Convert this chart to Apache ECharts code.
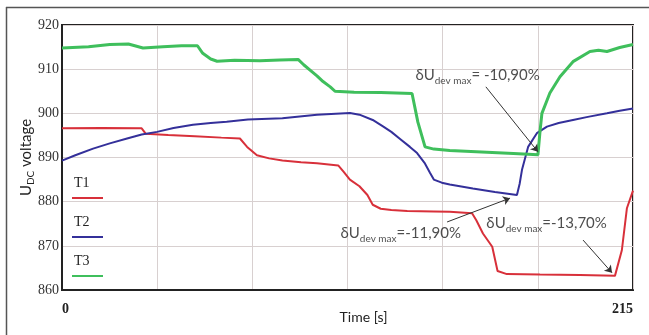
<!DOCTYPE html>
<html>
<head>
<meta charset="utf-8">
<script src="https://cdn.jsdelivr.net/npm/echarts@6/dist/echarts.min.js"></script>
<style>
  html, body { margin: 0; padding: 0; background: #fff; }
  #main { width: 649px; height: 335px; }
</style>
</head>
<body>
<div id="main"></div>
<script>
// measured traces, [time s, voltage V]
var dataT1 = [
    [0,896.6],[15,896.7],[30,896.6],[31.5,895.4],[40,895.1],[50,894.8],[60,894.5],[67,894.3],
    [69.7,892.4],[73.4,890.5],[78,889.8],[83,889.3],[90,888.9],[96,888.7],[104,888.2],[106,886.8],
    [108.4,885],[112,883.5],[115,881.5],[117,879.3],[120,878.4],[124,878.1],[130,877.9],[140,877.8],
    [146,877.7],[154.4,877.4],[156,875.8],[158.5,872.8],[162,869.8],[164,864.3],[167.5,863.6],
    [180,863.5],[195,863.4],[208.2,863.2],[210.8,869],[212.7,878.5],[215,882.5]
];
var dataT2 = [
    [0,889.3],[5,890.5],[11.7,892],[18,893.2],[24.5,894.3],[30,895.2],[35.8,895.8],[42,896.7],
    [49.3,897.4],[56,897.8],[62,898.1],[70,898.6],[83,898.9],[96,899.7],[108.4,900.1],[112,899.7],
    [117,898.5],[121,897],[124,895.8],[127.3,894.2],[131,892.4],[133.7,891],[136.5,888.8],[138.6,886.5],
    [140,885],[143,884.3],[146,883.9],[154.7,883],[163,882.2],[171.3,881.5],[172.3,884],[173.2,887.2],
    [175.5,892.4],[178.8,895.5],[182.6,897],[187,897.8],[192.4,898.5],[198,899.2],[205.2,900],
    [210,900.6],[215,901.1]
];
var dataT3 = [
    [0,914.8],[10,915.1],[18,915.6],[25,915.7],[30.5,914.8],[38,915.1],[45,915.3],[51,915.3],
    [53,913.6],[56,912.3],[58.4,911.8],[65,912],[74.5,911.9],[82,912.1],[88.9,912.2],[91,911],
    [93.4,909.8],[96,908.5],[98.3,907.2],[101,906],[102.8,905],[110,904.8],[120,904.7],[131.8,904.5],
    [134,898],[136.7,892.4],[140,891.9],[146,891.6],[160,891.2],[170,890.9],[179.2,890.6],[180,896],
    [180.7,900],[183.7,904.6],[187.5,908.3],[192.4,911.7],[198.8,914],[202,914.3],[205.2,914],
    [210,914.9],[215,915.6]
];
var seriesNames = ['T1', 'T2', 'T3'];

// deviation notes: text anchor and arrow (data coordinates)
var notes = [
    {value: '= -10,90%', at: [132.9, 908.7], from: [159.6, 906.0], to: [179.2, 891.3]},
    {value: '=-11,90%',  at: [104.7, 872.9], from: [145.0, 875.4], to: [168.7, 880.8]},
    {value: '=-13,70%',  at: [159.6, 875.2], from: [196.2, 871.3], to: [207.1, 863.9]}
];

var colors = ['#d8303a', '#34309a', '#3fbf5c'];
var sans = 'Lato, "Open Sans", sans-serif';
var serif = '"Liberation Serif", "DejaVu Serif", serif';

var noteRich = {
    d: {fontFamily: sans, fontSize: 15, color: '#222', lineHeight: 22, verticalAlign: 'middle'},
    s: {fontFamily: sans, fontSize: 10, color: '#222', lineHeight: 10, verticalAlign: 'bottom'}
};

var series = [
    {name: 'T1', type: 'line', data: dataT1, showSymbol: false, silent: true,
        lineStyle: {color: colors[0], width: 2}},
    {name: 'T2', type: 'line', data: dataT2, showSymbol: false, silent: true,
        lineStyle: {color: colors[1], width: 2}},
    {name: 'T3', type: 'line', data: dataT3, showSymbol: false, silent: true,
        lineStyle: {color: colors[2], width: 3},
        markLine: {
            silent: true,
            symbol: ['none', 'arrow'],
            symbolSize: 7,
            label: {show: false},
            lineStyle: {color: '#333', width: 1, type: 'solid'},
            data: notes.map(function (n) {
                return [{coord: n.from}, {coord: n.to}];
            })
        }},
    {name: 'notes', type: 'scatter', silent: true, symbolSize: 1,
        itemStyle: {color: 'rgba(0,0,0,0)'},
        data: notes.map(function (n) { return {value: n.at, note: n.value}; }),
        label: {
            show: true, position: 'right', distance: 0,
            formatter: function (p) {
                return '{d|δU}{s|dev max}{d|' + p.data.note + '}';
            },
            rich: noteRich
        }}
];

// hand drawn legend, text above the line sample
var legendGraphic = [];
seriesNames.forEach(function (name, i) {
    var y = 183 + i * 39;
    legendGraphic.push({
        type: 'text', left: 74, top: y - 7, z: 100,
        style: {text: name, font: '14px ' + serif, fill: '#222'}
    });
    legendGraphic.push({
        type: 'line', z: 100, shape: {x1: 72, y1: y + 15, x2: 103, y2: y + 15},
        style: {stroke: colors[i], lineWidth: 2}
    });
});
// outer picture frame
legendGraphic.push({type: 'line', shape: {x1: 6, y1: 7.5, x2: 649, y2: 7.5}, style: {stroke: '#555', lineWidth: 1.5}});
legendGraphic.push({type: 'line', shape: {x1: 6.5, y1: 7, x2: 6.5, y2: 335}, style: {stroke: '#555', lineWidth: 1.5}});

var option = {
    backgroundColor: '#fff',
    animation: false,
    grid: {
        left: 62, top: 25, right: 16, bottom: 45,
        outerBoundsMode: 'none',
        show: true, borderColor: '#222', borderWidth: 2, backgroundColor: '#fff'
    },
    xAxis: {
        type: 'value',
        min: 0, max: 215, interval: 215 / 6,
        name: 'Time [s]',
        nameLocation: 'middle',
        nameGap: 20,
        nameMoveOverlap: false,
        nameTextStyle: {fontFamily: sans, fontSize: 14, color: '#222', padding: [0, 0, 0, 32]},
        axisLine: {lineStyle: {color: '#222', width: 2}},
        axisTick: {show: false},
        splitLine: {lineStyle: {color: '#d8d0d0', width: 1}},
        axisLabel: {
            fontFamily: serif, fontSize: 14, fontWeight: 'bold', color: '#222', margin: 12,
            alignMinLabel: 'left', alignMaxLabel: 'right',
            formatter: function (v) {
                if (Math.abs(v) < 0.01) return '0';
                if (Math.abs(v - 215) < 0.01) return '215';
                return '';
            }
        }
    },
    yAxis: {
        type: 'value',
        min: 860, max: 920, interval: 10,
        name: '{u|U}{s|DC}{u| voltage}',
        nameLocation: 'middle',
        nameRotate: 90,
        nameGap: 26,
        nameMoveOverlap: false,
        nameTextStyle: {
            rich: {
                u: {fontFamily: sans, fontSize: 15, color: '#222', lineHeight: 20, verticalAlign: 'middle'},
                s: {fontFamily: sans, fontSize: 10, color: '#222', lineHeight: 10, verticalAlign: 'bottom'}
            }
        },
        axisLine: {lineStyle: {color: '#222', width: 2}},
        axisTick: {show: false},
        splitLine: {lineStyle: {color: '#d8d0d0', width: 1}},
        axisLabel: {fontFamily: serif, fontSize: 14, color: '#333', margin: 3}
    },
    graphic: legendGraphic,
    series: series
};

var myChart = echarts.init(document.getElementById('main'));
myChart.setOption(option);
</script>
</body>
</html>
